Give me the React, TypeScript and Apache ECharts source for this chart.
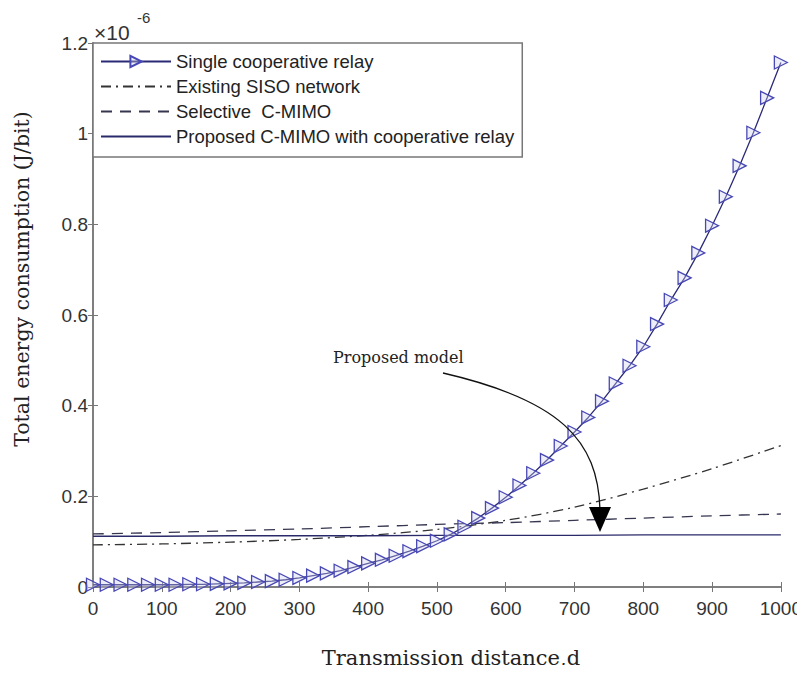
import React, { useEffect, useRef } from "react";
import * as echarts from "echarts";

// distances for the marker curve (every 20)
const distFine: number[] = [
  0, 20, 40, 60, 80, 100, 120, 140, 160, 180, 200, 220, 240, 260, 280, 300, 320, 340, 360, 380,
  400, 420, 440, 460, 480, 500, 520, 540, 560, 580, 600, 620, 640, 660, 680, 700, 720, 740, 760,
  780, 800, 820, 840, 860, 880, 900, 920, 940, 960, 980, 1000,
];
// Single cooperative relay (x 1e-6 J/bit)
const singleRelay: number[] = [
  0.005, 0.005, 0.005, 0.005, 0.005, 0.005, 0.005, 0.006, 0.006, 0.007, 0.008, 0.009, 0.011,
  0.013, 0.016, 0.02, 0.025, 0.03, 0.036, 0.044, 0.052, 0.06, 0.069, 0.079, 0.09, 0.102, 0.116,
  0.133, 0.152, 0.174, 0.198, 0.224, 0.251, 0.28, 0.311, 0.342, 0.374, 0.41, 0.449, 0.488, 0.53,
  0.58, 0.633, 0.682, 0.737, 0.797, 0.861, 0.929, 1.002, 1.079, 1.157,
];

// distances for the other curves (every 100)
const distCoarse: number[] = [0, 100, 200, 300, 400, 500, 600, 700, 800, 900, 1000];
const sisoNetwork: number[] = [0.093, 0.095, 0.099, 0.105, 0.114, 0.127, 0.147, 0.176, 0.216, 0.261, 0.312];
const selectiveCMIMO: number[] = [0.117, 0.12, 0.124, 0.128, 0.133, 0.138, 0.142, 0.147, 0.152, 0.157, 0.161];
const proposedCMIMO: number[] = [0.112, 0.112, 0.113, 0.113, 0.113, 0.114, 0.114, 0.114, 0.115, 0.115, 0.115];

const seriesNames: string[] = [
  "Single cooperative relay",
  "Existing SISO network",
  "Selective  C-MIMO",
  "Proposed C-MIMO with cooperative relay",
];

const xTicks = { min: 0, max: 1000, interval: 100 };
const yTicks = { min: 0, max: 1.2, interval: 0.2 };

const pair = (xs: number[], ys: number[]) => xs.map((x, i) => [x, ys[i]]);

export default function App() {
  const ref = useRef<HTMLDivElement>(null);
  useEffect(() => {
    if (!ref.current) return;
    const chart = echarts.init(ref.current, null, { renderer: "svg" });
    const axisColor = "#777";
    const labelFont = "Liberation Sans";
    const serif = "DejaVu Serif";
    const gridLeft = 93;
    const gridTop = 43;
    const gridW = 688;
    const gridH = 544;
    const hideSymbol = { color: "rgba(0,0,0,0)", borderWidth: 0 };
    chart.setOption({
      animation: false,
      backgroundColor: "#fff",
      grid: { left: gridLeft, top: gridTop, width: gridW, height: gridH, containLabel: false },
      legend: {
        orient: "vertical",
        left: gridLeft,
        top: gridTop,
        padding: [9, 8, 11, 7],
        itemGap: 6,
        itemWidth: 70,
        itemHeight: 14,
        backgroundColor: "#fff",
        borderColor: axisColor,
        borderWidth: 1.5,
        borderRadius: 0,
        textStyle: { fontFamily: labelFont, fontSize: 18.5, lineHeight: 19, color: "#222" },
        data: [
          { name: seriesNames[0] },
          { name: seriesNames[1], itemStyle: hideSymbol },
          { name: seriesNames[2], itemStyle: hideSymbol },
          { name: seriesNames[3], itemStyle: hideSymbol },
        ],
      },
      xAxis: [
        {
          type: "value",
          min: xTicks.min,
          max: xTicks.max,
          interval: xTicks.interval,
          axisLine: { show: true, lineStyle: { color: axisColor, width: 1.5 } },
          axisTick: { show: true, inside: true, length: 5, lineStyle: { color: axisColor } },
          axisLabel: {
            fontFamily: labelFont,
            fontSize: 19,
            color: "#333",
            margin: 12,
            formatter: (v: number) => String(v),
          },
          splitLine: { show: false },
        },
        {
          type: "value",
          position: "top",
          min: xTicks.min,
          max: xTicks.max,
          interval: xTicks.interval,
          axisLine: { show: true, lineStyle: { color: axisColor, width: 1.5 } },
          axisTick: { show: true, inside: true, length: 5, lineStyle: { color: axisColor } },
          axisLabel: { show: false },
          splitLine: { show: false },
        },
      ],
      yAxis: [
        {
          type: "value",
          min: yTicks.min,
          max: yTicks.max,
          interval: yTicks.interval,
          axisLine: { show: true, lineStyle: { color: axisColor, width: 1.5 } },
          axisTick: { show: true, inside: true, length: 5, lineStyle: { color: axisColor } },
          axisLabel: {
            fontFamily: labelFont,
            fontSize: 19,
            color: "#333",
            margin: 5,
            formatter: (v: number) => String(Math.round(v * 10) / 10),
          },
          splitLine: { show: false },
        },
        {
          type: "value",
          position: "right",
          min: yTicks.min,
          max: yTicks.max,
          interval: yTicks.interval,
          axisLine: { show: true, lineStyle: { color: axisColor, width: 1.5 } },
          axisTick: { show: true, inside: true, length: 5, lineStyle: { color: axisColor } },
          axisLabel: { show: false },
          splitLine: { show: false },
        },
      ],
      series: [
        {
          name: seriesNames[0],
          type: "line",
          data: pair(distFine, singleRelay),
          symbol: "triangle",
          symbolRotate: -90,
          symbolSize: 13,
          showAllSymbol: true,
          lineStyle: { color: "#2a2a78", width: 1.3 },
          itemStyle: { color: "rgba(205,205,240,0.35)", borderColor: "#4848b4", borderWidth: 1.3 },
          z: 3,
        },
        {
          name: seriesNames[1],
          type: "line",
          data: pair(distCoarse, sisoNetwork),
          symbol: "none",
          smooth: 0.3,
          lineStyle: { color: "#333", width: 1.3, type: [10, 5, 2, 5] },
          itemStyle: { color: "#333" },
        },
        {
          name: seriesNames[2],
          type: "line",
          data: pair(distCoarse, selectiveCMIMO),
          symbol: "none",
          smooth: 0.3,
          lineStyle: { color: "#363650", width: 1.3, type: [11, 8] },
          itemStyle: { color: "#363650" },
        },
        {
          name: seriesNames[3],
          type: "line",
          data: pair(distCoarse, proposedCMIMO),
          symbol: "none",
          lineStyle: { color: "#2a2a6a", width: 1.3 },
          itemStyle: { color: "#2a2a6a" },
        },
      ],
      graphic: [
        {
          type: "text",
          left: 94,
          top: 22,
          style: { text: "×10", fontFamily: labelFont, fontSize: 21, fill: "#333" },
        },
        {
          type: "text",
          left: 137,
          top: 10,
          style: { text: "-6", fontFamily: labelFont, fontSize: 15, fill: "#333" },
        },
        {
          type: "text",
          x: 22,
          y: 279,
          rotation: Math.PI / 2,
          style: {
            text: "Total energy consumption (J/bit)",
            fontFamily: serif,
            fontSize: 20.5,
            fill: "#222",
            align: "center",
            verticalAlign: "middle",
          },
        },
        {
          type: "text",
          x: 451,
          y: 658,
          style: {
            text: "Transmission distance,d",
            fontFamily: serif,
            fontSize: 21,
            fill: "#222",
            align: "center",
            verticalAlign: "middle",
          },
        },
        {
          type: "text",
          x: 333,
          y: 357,
          style: {
            text: "Proposed model",
            fontFamily: serif,
            fontSize: 16,
            fill: "#222",
            align: "left",
            verticalAlign: "middle",
          },
        },
        {
          type: "bezierCurve",
          shape: { x1: 443, y1: 373, cpx1: 560, cpy1: 400, cpx2: 598, cpy2: 440, x2: 600, y2: 510 },
          style: { stroke: "#111", lineWidth: 1.3, fill: null },
          z: 10,
        },
        {
          type: "polygon",
          shape: { points: [[589, 507], [611, 507], [600, 532]] },
          style: { fill: "#000" },
          z: 10,
        },
      ],
    });
    return () => chart.dispose();
  }, []);
  return <div ref={ref} style={{ width: 805, height: 673, margin: -8 }} />;
}
